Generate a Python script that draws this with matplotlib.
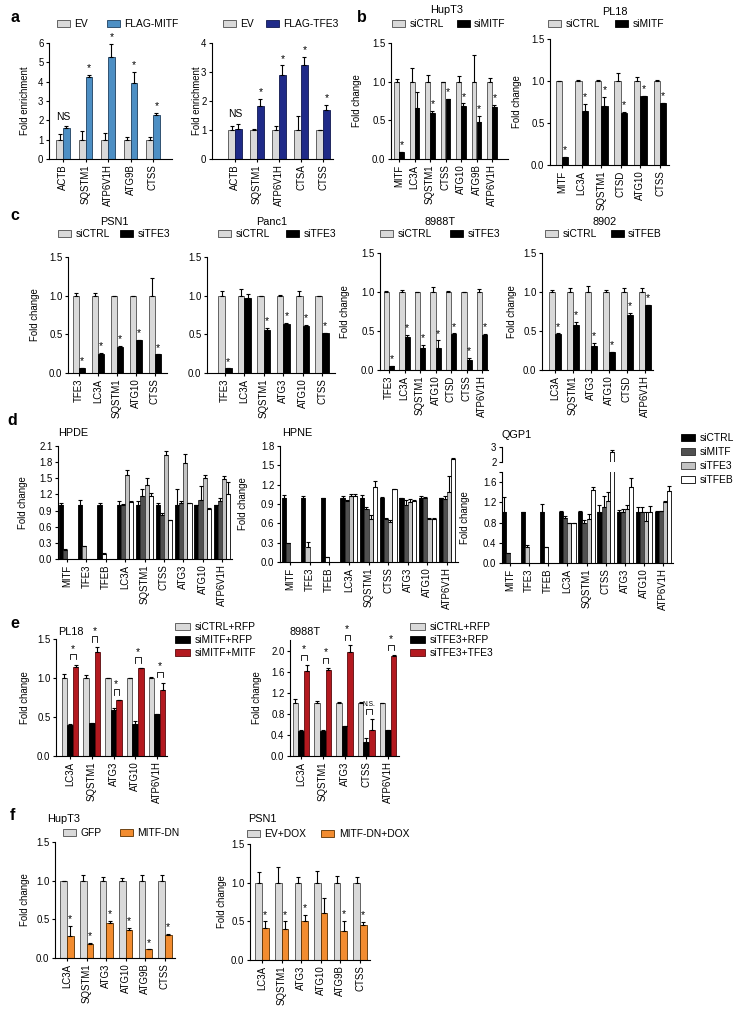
import numpy as np
import matplotlib
matplotlib.use("Agg")
import matplotlib.pyplot as plt

plt.rcParams['font.family'] = ['Liberation Sans', 'DejaVu Sans']
nan = np.nan

# ---------------- DATA ----------------
# panel a
a1_genes = ['ACTB', 'SQSTM1', 'ATP6V1H', 'ATG9B', 'CTSS']
a1_ev = [1, 1, 1, 1, 1]
a1_ev_err = [0.3, 0.45, 0.33, 0.12, 0.12]
a1_mitf = [1.62, 4.25, 5.3, 3.92, 2.3]
a1_mitf_err = [0.07, 0.1, 0.65, 0.58, 0.1]
a1_marks = ['NS', '*', '*', '*', '*']

a2_genes = ['ACTB', 'SQSTM1', 'ATP6V1H', 'CTSA', 'CTSS']
a2_ev = [1, 1, 1, 1, 1]
a2_ev_err = [0.15, 0.02, 0.13, 0.5, 0.01]
a2_tfe3 = [1.02, 1.82, 2.9, 3.25, 1.7]
a2_tfe3_err = [0.2, 0.25, 0.33, 0.27, 0.17]
a2_marks = ['NS', '*', '*', '*', '*']

# panel b
b1_genes = ['MITF', 'LC3A', 'SQSTM1', 'CTSS', 'ATG10', 'ATG9B', 'ATP6V1H']
b1_ctrl = [1, 1, 1, 1, 1, 1, 1]
b1_ctrl_err = [0.04, 0.18, 0.08, 0.0, 0.07, 0.34, 0.05]
b1_si = [0.09, 0.66, 0.6, 0.78, 0.68, 0.48, 0.67]
b1_si_err = [0.0, 0.21, 0.02, 0.0, 0.04, 0.08, 0.03]
b1_marks = ['*', '', '*', '*', '*', '*', '*']

b2_genes = ['MITF', 'LC3A', 'SQSTM1', 'CTSD', 'ATG10', 'CTSS']
b2_ctrl = [1, 1, 1, 1, 1, 1]
b2_ctrl_err = [0.0, 0.01, 0.01, 0.1, 0.05, 0.01]
b2_si = [0.09, 0.64, 0.7, 0.62, 0.82, 0.74]
b2_si_err = [0.01, 0.09, 0.11, 0.01, 0.0, 0.0]
b2_marks = ['*'] * 6

# panel c
c1_genes = ['TFE3', 'LC3A', 'SQSTM1', 'ATG10', 'CTSS']
c1_ctrl = [1, 1, 1, 1, 1]
c1_ctrl_err = [0.03, 0.04, 0.0, 0.0, 0.23]
c1_si = [0.07, 0.24, 0.34, 0.43, 0.24]
c1_si_err = [0.0, 0.02, 0.01, 0.0, 0.0]
c1_marks = ['*'] * 5

c2_genes = ['TFE3', 'LC3A', 'SQSTM1', 'ATG3', 'ATG10', 'CTSS']
c2_ctrl = [1, 1, 1, 1, 1, 1]
c2_ctrl_err = [0.06, 0.09, 0.0, 0.01, 0.06, 0.0]
c2_si = [0.06, 0.97, 0.56, 0.64, 0.61, 0.52]
c2_si_err = [0.0, 0.05, 0.02, 0.01, 0.01, 0.0]
c2_marks = ['*', '', '*', '*', '*', '*']

c3_genes = ['TFE3', 'LC3A', 'SQSTM1', 'ATG10', 'CTSD', 'CTSS', 'ATP6V1H']
c3_ctrl = [1, 1, 1, 1, 1, 1, 1]
c3_ctrl_err = [0.01, 0.02, 0.0, 0.07, 0.01, 0.0, 0.04]
c3_si = [0.05, 0.42, 0.28, 0.28, 0.46, 0.13, 0.45]
c3_si_err = [0.0, 0.03, 0.04, 0.1, 0.01, 0.03, 0.01]
c3_marks = ['*'] * 7

c4_genes = ['LC3A', 'SQSTM1', 'ATG3', 'ATG10', 'CTSD', 'ATP6V1H']
c4_ctrl = [1, 1, 1, 1, 1, 1]
c4_ctrl_err = [0.02, 0.05, 0.08, 0.02, 0.05, 0.05]
c4_si = [0.46, 0.58, 0.31, 0.23, 0.7, 0.83]
c4_si_err = [0.01, 0.04, 0.04, 0.0, 0.03, 0.0]
c4_marks = ['*'] * 6

# panel d
d_genes = ['MITF', 'TFE3', 'TFEB', 'LC3A', 'SQSTM1', 'CTSS', 'ATG3', 'ATG10', 'ATP6V1H']
d_series = ['siCTRL', 'siMITF', 'siTFE3', 'siTFEB']

hpde_ctrl = [1, 1, 1, 1, 1, 1, 1, 1, 1]
hpde_ctrl_err = [0.05, 0.1, 0.05, 0.07, 0.08, 0.05, 0.31, 0.01, 0.01]
hpde_mitf = [0.17, nan, nan, 1.0, 1.17, 0.81, 1.04, 1.1, 1.07]
hpde_mitf_err = [0.02, 0, 0, 0.02, 0.14, 0.05, 0.03, 0.25, 0.06]
hpde_tfe3 = [nan, 0.24, nan, 1.56, 1.38, 1.93, 1.78, 1.51, 1.49]
hpde_tfe3_err = [0, 0.01, 0, 0.1, 0.13, 0.07, 0.18, 0.05, 0.05]
hpde_tfeb = [nan, nan, 0.09, 1.06, 1.18, 0.73, 1.04, 0.92, 1.21]
hpde_tfeb_err = [0, 0, 0.02, 0.02, 0.04, 0.0, 0.0, 0.02, 0.22]

hpne_ctrl = [1, 1, 1, 1, 1, 1, 1, 1, 1]
hpne_ctrl_err = [0.04, 0.03, 0.0, 0.02, 0.04, 0.01, 0.0, 0.03, 0.0]
hpne_mitf = [0.29, nan, nan, 0.94, 0.82, 0.67, 0.89, 0.99, 0.98]
hpne_mitf_err = [0.01, 0, 0, 0.02, 0.04, 0.01, 0.07, 0.02, 0.05]
hpne_tfe3 = [nan, 0.23, nan, 1.02, 0.66, 0.62, 0.93, 0.66, 1.08]
hpne_tfe3_err = [0, 0.08, 0, 0.03, 0.07, 0.03, 0.05, 0.03, 0.25]
hpne_tfeb = [nan, nan, 0.08, 1.02, 1.16, 1.13, 0.95, 0.66, 1.6]
hpne_tfeb_err = [0, 0, 0.0, 0.03, 0.09, 0.01, 0.01, 0.03, 0.02]

qgp1_ctrl = [1, 1, 1, 1, 1, 1, 1, 1, 1]
qgp1_ctrl_err = [0.3, 0.0, 0.17, 0.02, 0.03, 0.15, 0.04, 0.1, 0.02]
qgp1_mitf = [0.19, nan, nan, 0.89, 0.8, 1.1, 1.01, 1.0, 1.02]
qgp1_mitf_err = [0.01, 0, 0, 0.04, 0.05, 0.23, 0.05, 0.1, 0.01]
qgp1_tfe3 = [nan, 0.31, nan, 0.79, 0.87, 1.23, 1.07, 0.84, 1.21]
qgp1_tfe3_err = [0, 0.05, 0, 0.0, 0.1, 0.17, 0.07, 0.16, 0.02]
qgp1_tfeb = [nan, nan, 0.31, 0.79, 1.45, 2.65, 1.5, 1.0, 1.42]
qgp1_tfeb_err = [0, 0, 0.01, 0.0, 0.05, 0.12, 0.19, 0.12, 0.1]

# panel e
e1_genes = ['LC3A', 'SQSTM1', 'ATG3', 'ATG10', 'ATP6V1H']
e1_ctrl = [1, 1, 1, 1, 1]
e1_ctrl_err = [0.05, 0.04, 0.0, 0.0, 0.01]
e1_si = [0.4, 0.42, 0.59, 0.41, 0.54]
e1_si_err = [0.01, 0.0, 0.02, 0.04, 0.0]
e1_res = [1.14, 1.33, 0.72, 1.13, 0.84]
e1_res_err = [0.03, 0.07, 0.0, 0.0, 0.1]
e1_marks = ['*'] * 5

e2_genes = ['LC3A', 'SQSTM1', 'ATG3', 'CTSS', 'ATP6V1H']
e2_ctrl = [1, 1, 1, 1, 1]
e2_ctrl_err = [0.09, 0.04, 0.02, 0.03, 0.0]
e2_si = [0.48, 0.47, 0.56, 0.27, 0.49]
e2_si_err = [0.01, 0.03, 0.0, 0.08, 0.0]
e2_res = [1.62, 1.63, 1.97, 0.5, 1.9]
e2_res_err = [0.1, 0.04, 0.13, 0.2, 0.01]
e2_marks = ['*', '*', '*', 'N.S.', '*']

# panel f
f1_genes = ['LC3A', 'SQSTM1', 'ATG3', 'ATG10', 'ATG9B', 'CTSS']
f1_ctrl = [1, 1, 1, 1, 1, 1]
f1_ctrl_err = [0.0, 0.07, 0.05, 0.04, 0.07, 0.07]
f1_dn = [0.28, 0.18, 0.45, 0.36, 0.11, 0.3]
f1_dn_err = [0.13, 0.01, 0.03, 0.03, 0.0, 0.01]
f1_marks = ['*'] * 6

f2_genes = ['LC3A', 'SQSTM1', 'ATG3', 'ATG10', 'ATG9B', 'CTSS']
f2_ctrl = [1, 1, 1, 1, 1, 1]
f2_ctrl_err = [0.14, 0.2, 0.07, 0.15, 0.08, 0.07]
f2_dn = [0.42, 0.4, 0.51, 0.61, 0.37, 0.45]
f2_dn_err = [0.08, 0.1, 0.07, 0.19, 0.14, 0.04]
f2_marks = ['*', '*', '*', '', '*', '*']

# ---------------- STYLE ----------------
GRAY = '#d9d9d9'
EDGE = '#4d4d4d'
BLUE = '#4d8fc4'
NAVY = '#1f2a88'
RED = '#b3191f'
ORANGE = '#f28c30'
DKGRAY = '#505050'
LTGRAY = '#c4c4c4'
TICK_FS = 6.9
LAB_FS = 6.9
LEG_FS = 7.4
TITLE_FS = 7.8

W, H = 737, 1009
fig = plt.figure(figsize=(W / 100, H / 100), dpi=100)


def make_ax(L, R, T, B, c0, cn, n, ymax, ymin=0.0):
    ax = fig.add_axes([L / W, 1 - B / H, (R - L) / W, (B - T) / H])
    unit = (cn - c0) / (n - 1)
    ax.set_xlim(-(c0 - L) / unit, (n - 1) + (R - cn) / unit)
    ax.set_ylim(ymin, ymax)
    for s in ['top', 'right']:
        ax.spines[s].set_visible(False)
    for s in ['left', 'bottom']:
        ax.spines[s].set_linewidth(0.8)
    ax.tick_params(axis='both', length=2.5, width=0.8, labelsize=TICK_FS, pad=1.5)
    ax.patch.set_alpha(0)
    return ax


def draw_groups(ax, genes, vals, errs, colors, edges, w):
    ns = len(vals)
    tops = []
    xs = []
    for g in range(len(genes)):
        present = [s for s in range(ns) if not np.isnan(vals[s][g])]
        gt, gx = {}, {}
        for k, s in enumerate(present):
            x = g + (k - (ns - 1) / 2) * w
            v = vals[s][g]
            e = errs[s][g]
            ax.bar(x, v, w, color=colors[s], edgecolor=edges[s], linewidth=0.6, zorder=2)
            ax.errorbar(x, v, yerr=[[0], [e]], fmt='none', ecolor='black',
                        elinewidth=0.8, capsize=1.3, capthick=0.8, zorder=3)
            gt[s] = v + e
            gx[s] = x
        tops.append(gt)
        xs.append(gx)
    ax.set_xticks(range(len(genes)))
    ax.set_xticklabels(genes, rotation=90)
    return xs, tops


def stars(ax, xs, tops, marks, s_idx, frac=0.015, fs=7.5):
    ymax = ax.get_ylim()[1]
    for g, m in enumerate(marks):
        if not m:
            continue
        if m == 'NS':
            y = max(tops[g].values()) + 0.04 * ymax
            ax.text(g, y, m, ha='center', va='bottom', fontsize=LEG_FS)
        else:
            ax.text(xs[g][s_idx], tops[g][s_idx] + frac * ymax, m, ha='center',
                    va='bottom', fontsize=fs)


def brackets(ax, xs, tops, marks):
    ymax = ax.get_ylim()[1]
    for g, m in enumerate(marks):
        x1, x2 = xs[g][1], xs[g][2]
        y = max(tops[g][1], tops[g][2]) + 0.09 * ymax
        leg = 0.045 * ymax
        ax.plot([x1, x1, x2, x2], [y - leg, y, y, y - leg], color='black', lw=0.6,
                clip_on=False, zorder=4)
        fs = 7.5 if m == '*' else 4.8
        ax.text((x1 + x2) / 2, y + 0.005 * ymax, m, ha='center', va='bottom', fontsize=fs)


def ylabel(ax, text, xpx):
    ax.set_ylabel(text, fontsize=LAB_FS)
    pos = ax.get_position()
    ax.yaxis.set_label_coords(xpx / W, (pos.y0 + pos.y1) / 2, transform=fig.transFigure)


def legend(handles, labels, xpx, ypx, ncol, colsp=1.5, hl=1.25, pad=0.45, lsp=0.39):
    fig.legend(handles, labels, loc='center left', bbox_to_anchor=(xpx / W, 1 - ypx / H),
               ncol=ncol, frameon=False, fontsize=LEG_FS, handlelength=hl, handleheight=0.65,
               handletextpad=pad, columnspacing=colsp, borderpad=0, borderaxespad=0,
               labelspacing=lsp)


def ftext(xpx, ypx, s, **kw):
    fig.text(xpx / W, 1 - ypx / H, s, **kw)


def patch_handles(colors, edges):
    return [plt.Rectangle((0, 0), 1, 1, facecolor=c, edgecolor=e, linewidth=0.6)
            for c, e in zip(colors, edges)]


two_edges_gray = [EDGE, 'black']

# ---------------- PANEL a ----------------
ax = make_ax(49, 172, 43, 159, 63, 153, 5, 6)
xs, tops = draw_groups(ax, a1_genes, [a1_ev, a1_mitf], [a1_ev_err, a1_mitf_err],
                       [GRAY, BLUE], [EDGE, '#1f3f5f'], 0.31)
stars(ax, xs, tops, a1_marks, 1)
ax.set_yticks(range(0, 7))
ylabel(ax, 'Fold enrichment', 30)
legend(patch_handles([GRAY, BLUE], [EDGE, '#1f3f5f']), ['EV', 'FLAG-MITF'], 57, 24, 2, colsp=1.8)

ax = make_ax(212, 333, 43, 159, 235, 323, 5, 4)
xs, tops = draw_groups(ax, a2_genes, [a2_ev, a2_tfe3], [a2_ev_err, a2_tfe3_err],
                       [GRAY, NAVY], [EDGE, '#101850'], 0.31)
stars(ax, xs, tops, a2_marks, 1)
ax.set_yticks(range(0, 5))
ylabel(ax, 'Fold enrichment', 202)
legend(patch_handles([GRAY, NAVY], [EDGE, '#101850']), ['EV', 'FLAG-TFE3'], 223, 24, 2, colsp=1.15)

# ---------------- PANEL b ----------------
fticks = [0, 0.5, 1.0, 1.5]
ax = make_ax(391, 508, 43, 159, 399, 492, 7, 1.5)
xs, tops = draw_groups(ax, b1_genes, [b1_ctrl, b1_si], [b1_ctrl_err, b1_si_err],
                       [GRAY, 'black'], two_edges_gray, 0.32)
stars(ax, xs, tops, b1_marks, 1)
ax.set_yticks(fticks)
ylabel(ax, 'Fold change', 362)
legend(patch_handles([GRAY, 'black'], two_edges_gray), ['siCTRL', 'siMITF'], 392, 24, 2, colsp=1.25)
ftext(447, 10, 'HupT3', ha='center', va='center', fontsize=TITLE_FS)

ax = make_ax(550, 669, 39, 165, 562, 660, 6, 1.5)
xs, tops = draw_groups(ax, b2_genes, [b2_ctrl, b2_si], [b2_ctrl_err, b2_si_err],
                       [GRAY, 'black'], two_edges_gray, 0.33)
stars(ax, xs, tops, b2_marks, 1)
ax.set_yticks(fticks)
ylabel(ax, 'Fold change', 522)
legend(patch_handles([GRAY, 'black'], two_edges_gray), ['siCTRL', 'siMITF'], 548, 24, 2, colsp=1.45)
ftext(615, 12, 'PL18', ha='center', va='center', fontsize=TITLE_FS)

# ---------------- PANEL c ----------------
c_specs = [
    (c1_genes, c1_ctrl, c1_ctrl_err, c1_si, c1_si_err, c1_marks, 'siTFE3', 'PSN1',
     (68, 167, 257, 373, 79, 155), 40, 58, 1.0, 114),
    (c2_genes, c2_ctrl, c2_ctrl_err, c2_si, c2_si_err, c2_marks, 'siTFE3', 'Panc1',
     (207, 335, 257, 373, 225, 322), None, 218, 1.55, 272),
    (c3_genes, c3_ctrl, c3_ctrl_err, c3_si, c3_si_err, c3_marks, 'siTFE3', '8988T',
     (380, 488, 253, 370, 389, 482), 350, 380, 1.8, 440),
    (c4_genes, c4_ctrl, c4_ctrl_err, c4_si, c4_si_err, c4_marks, 'siTFEB', '8902',
     (542, 653, 253, 370, 555, 645), 517, 545, 1.35, 605),
]
for genes, ctrl, ce, si, se, marks, siname, title, box, ylx, legx, csp, tx in c_specs:
    L, R, T, B, c0, cn = box
    ax = make_ax(L, R, T, B, c0, cn, len(genes), 1.5)
    xs, tops = draw_groups(ax, genes, [ctrl, si], [ce, se], [GRAY, 'black'], two_edges_gray, 0.34)
    stars(ax, xs, tops, marks, 1)
    ax.set_yticks(fticks)
    if ylx is not None:
        ylabel(ax, 'Fold change', ylx)
    legend(patch_handles([GRAY, 'black'], two_edges_gray), ['siCTRL', siname], legx, 234, 2, colsp=csp)
    ftext(tx, 222, title, ha='center', va='center', fontsize=TITLE_FS)

# ---------------- PANEL d ----------------
d_colors = ['black', DKGRAY, LTGRAY, 'white']
d_edges = ['black', '#2a2a2a', '#3a3a3a', 'black']
ax = make_ax(58, 232, 446, 559, 67, 222, 9, 2.1)
draw_groups(ax, d_genes, [hpde_ctrl, hpde_mitf, hpde_tfe3, hpde_tfeb],
            [hpde_ctrl_err, hpde_mitf_err, hpde_tfe3_err, hpde_tfeb_err], d_colors, d_edges, 0.215)
ax.set_yticks(np.arange(0, 2.11, 0.3))
ax.set_yticklabels(['%.1f' % v for v in np.arange(0, 2.11, 0.3)])
ylabel(ax, 'Fold change', 28)
ftext(58, 433, 'HPDE', ha='left', va='center', fontsize=TITLE_FS)

ax = make_ax(280, 458, 446, 562, 290, 447, 9, 1.8)
draw_groups(ax, d_genes, [hpne_ctrl, hpne_mitf, hpne_tfe3, hpne_tfeb],
            [hpne_ctrl_err, hpne_mitf_err, hpne_tfe3_err, hpne_tfeb_err], d_colors, d_edges, 0.215)
ax.set_yticks(np.arange(0, 1.81, 0.3))
ax.set_yticklabels(['%.1f' % v for v in np.arange(0, 1.81, 0.3)])
ylabel(ax, 'Fold change', 248)
ftext(282, 433, 'HPNE', ha='left', va='center', fontsize=TITLE_FS)

qvals = [qgp1_ctrl, qgp1_mitf, qgp1_tfe3, qgp1_tfeb]
qerrs = [qgp1_ctrl_err, qgp1_mitf_err, qgp1_tfe3_err, qgp1_tfeb_err]
ax = make_ax(502, 673, 472, 563, 510, 663, 9, 1.8)
draw_groups(ax, d_genes, qvals, qerrs, d_colors, d_edges, 0.215)
ax.set_yticks([0, 0.4, 0.8, 1.2, 1.6, 1.8])
ax.set_yticklabels(['0.0', '0.4', '0.8', '1.2', '1.6', ''])
ylabel(ax, 'Fold change', 470)
axu = make_ax(502, 673, 447, 462, 510, 663, 9, 3, ymin=2)
draw_groups(axu, d_genes, qvals, qerrs, d_colors, d_edges, 0.215)
axu.spines['bottom'].set_visible(False)
axu.set_xticks([])
axu.set_yticks([2, 3])
axu.set_yticklabels(['2', '3'])
ftext(501, 435, 'QGP1', ha='left', va='center', fontsize=TITLE_FS)
legend(patch_handles(d_colors, d_edges), d_series, 681, 459, 1, hl=1.4, pad=0.45, lsp=0.39)

# ---------------- PANEL e ----------------
e_colors = [GRAY, 'black', RED]
e_edges = [EDGE, 'black', '#5a0a0d']
ax = make_ax(56, 167, 639, 756, 70, 157, 5, 1.5)
xs, tops = draw_groups(ax, e1_genes, [e1_ctrl, e1_si, e1_res], [e1_ctrl_err, e1_si_err, e1_res_err],
                       e_colors, e_edges, 0.26)
brackets(ax, xs, tops, e1_marks)
ax.set_yticks(fticks)
ylabel(ax, 'Fold change', 30)
ftext(58, 632, 'PL18', ha='left', va='center', fontsize=TITLE_FS)
legend(patch_handles(e_colors, e_edges), ['siCTRL+RFP', 'siMITF+RFP', 'siMITF+MITF'], 175, 640, 1,
       hl=1.45, pad=0.45, lsp=0.31)

ax = make_ax(290, 399, 640, 756, 301, 388, 5, 2.2)
xs, tops = draw_groups(ax, e2_genes, [e2_ctrl, e2_si, e2_res], [e2_ctrl_err, e2_si_err, e2_res_err],
                       e_colors, e_edges, 0.26)
brackets(ax, xs, tops, e2_marks)
ax.set_yticks([0, 0.4, 0.8, 1.2, 1.6, 2.0])
ax.set_yticklabels(['0.0', '0.4', '0.8', '1.2', '1.6', '2.0'])
ylabel(ax, 'Fold change', 262)
ftext(290, 632, '8988T', ha='left', va='center', fontsize=TITLE_FS)
legend(patch_handles(e_colors, e_edges), ['siCTRL+RFP', 'siTFE3+RFP', 'siTFE3+TFE3'], 410, 640, 1,
       hl=1.45, pad=0.45, lsp=0.31)

# ---------------- PANEL f ----------------
f_colors = [GRAY, ORANGE]
f_edges = [EDGE, '#5a3000']
ax = make_ax(55, 175, 842, 958, 67, 165, 6, 1.5)
xs, tops = draw_groups(ax, f1_genes, [f1_ctrl, f1_dn], [f1_ctrl_err, f1_dn_err], f_colors, f_edges, 0.34)
stars(ax, xs, tops, f1_marks, 1)
ax.set_yticks(fticks)
ylabel(ax, 'Fold change', 30)
ftext(47, 819, 'HupT3', ha='left', va='center', fontsize=TITLE_FS)
legend(patch_handles(f_colors, f_edges), ['GFP', 'MITF-DN'], 63, 833, 2, colsp=1.8)

ax = make_ax(250, 370, 844, 960, 262, 360, 6, 1.5)
xs, tops = draw_groups(ax, f2_genes, [f2_ctrl, f2_dn], [f2_ctrl_err, f2_dn_err], f_colors, f_edges, 0.34)
stars(ax, xs, tops, f2_marks, 1)
ax.set_yticks(fticks)
ylabel(ax, 'Fold change', 227)
ftext(248, 819, 'PSN1', ha='left', va='center', fontsize=TITLE_FS)
legend(patch_handles(f_colors, f_edges), ['EV+DOX', 'MITF-DN+DOX'], 247, 834, 2, colsp=1.45)

# ---------------- panel letters ----------------
for letter, x, y in [('a', 15, 18), ('b', 362, 18), ('c', 15, 215), ('d', 12, 420),
                     ('e', 15, 624), ('f', 12, 815)]:
    ftext(x, y, letter, ha='center', va='center', fontsize=11.5, fontweight='bold')

fig.savefig('out.png', dpi=100)
